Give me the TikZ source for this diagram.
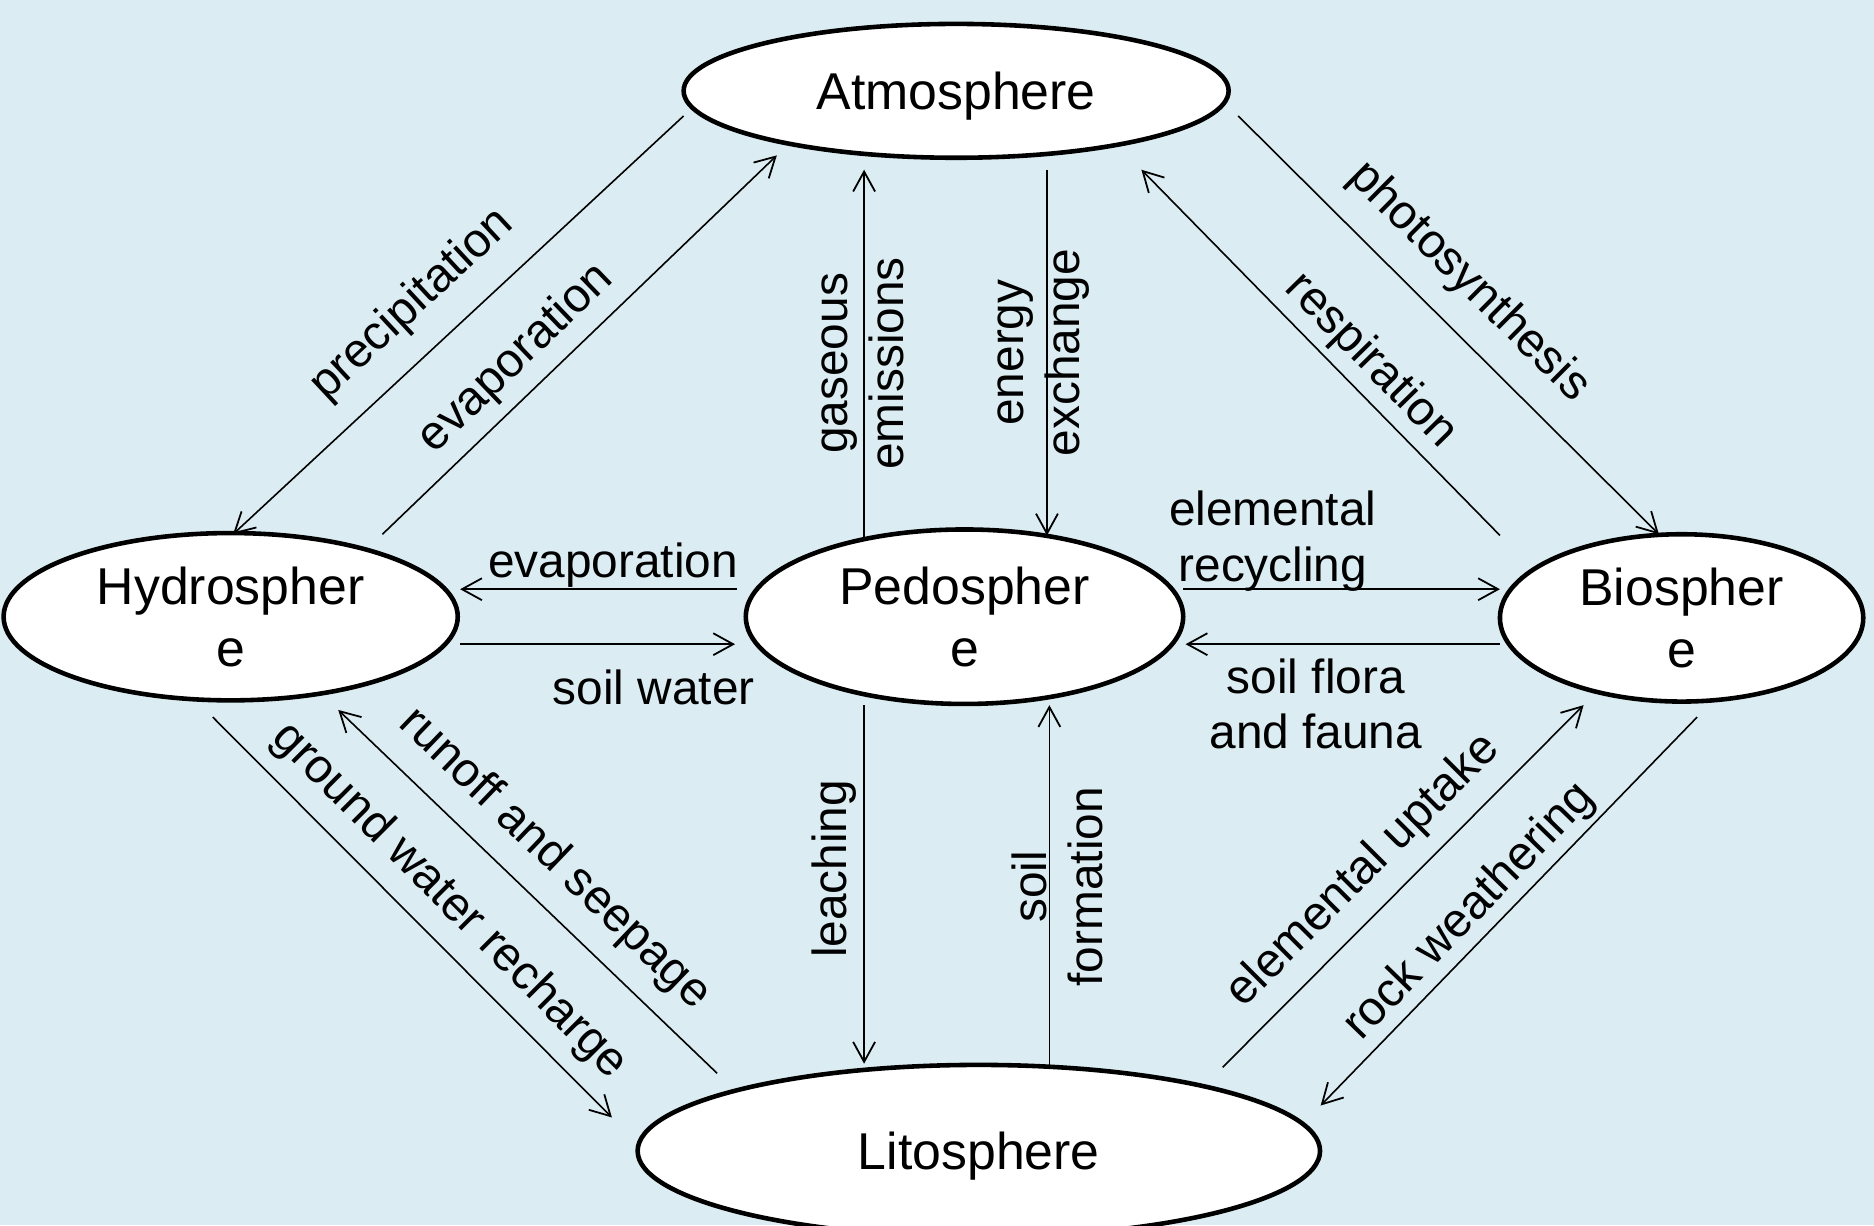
\documentclass[tikz,border=0pt]{standalone}
\usepackage{fontspec}
\setmainfont{Liberation Sans}
\usetikzlibrary{shapes.geometric,arrows.meta}
\definecolor{bgblue}{RGB}{219,237,243}
\begin{document}
\begin{tikzpicture}[x=0.6pt,y=-0.6pt,
  sphere/.style={ellipse,draw=black,line width=2.3pt,fill=white,inner sep=0pt,
    align=center,font=\fontsize{26}{31}\selectfont},
  flow/.style={draw=black,line width=0.8pt,-{Straight Barb[length=10pt,width=11pt,line width=0.9pt]}},
  lbl/.style={inner sep=0pt,align=center,font=\fontsize{24}{28}\selectfont}]
\fill[bgblue] (0,0) rectangle (1568,1025);
\useasboundingbox (0,0) rectangle (1568,1025);
% spheres
\node[sphere,text depth=0pt,minimum width=273.6pt,minimum height=67.2pt] (atm) at (800,76) {Atmosphere};
\node[sphere,minimum width=228pt,minimum height=84pt] (hyd) at (193,516) {Hydrospher\\e};
\node[sphere,minimum width=219.6pt,minimum height=87.6pt] (ped) at (807,516) {Pedospher\\e};
\node[sphere,minimum width=182.4pt,minimum height=84pt] (bio) at (1407,517) {Biospher\\e};
\node[sphere,text depth=0pt,minimum width=342.6pt,minimum height=86.4pt] (lit) at (819,963) {Litosphere};
% connectors
\draw[flow] ([shift={(-228,21)}]atm.center) -- ([shift={(2,-69)}]hyd.center);
\draw[flow] ([shift={(127,-69)}]hyd.center) -- ([shift={(-150,54)}]atm.center);
\draw[flow] ([shift={(-84,-66)}]ped.center) -- ([shift={(-77,66)}]atm.center);
\draw[flow] ([shift={(76,66)}]atm.center) -- ([shift={(69,-68)}]ped.center);
\draw[flow] ([shift={(-152,-69)}]bio.center) -- ([shift={(155,66)}]atm.center);
\draw[flow] ([shift={(236,21)}]atm.center) -- ([shift={(-19,-70)}]bio.center);
\draw[flow] ([shift={(-190,-23)}]ped.center) -- ([shift={(192,-23)}]hyd.center);
\draw[flow] ([shift={(192,23)}]hyd.center) -- ([shift={(-192,23)}]ped.center);
\draw[flow] ([shift={(183,-23)}]ped.center) -- ([shift={(-152,-24)}]bio.center);
\draw[flow] ([shift={(-152,22)}]bio.center) -- ([shift={(185,23)}]ped.center);
\draw[flow] ([shift={(-15,84)}]hyd.center) -- ([shift={(-307,-28)}]lit.center);
\draw[flow] ([shift={(-219,-65)}]lit.center) -- ([shift={(90,78)}]hyd.center);
\draw[flow] ([shift={(-84,74)}]ped.center) -- ([shift={(-96,-73)}]lit.center);
\draw[flow] ([shift={(59,-71)}]lit.center) -- ([shift={(71,74)}]ped.center);
\draw[flow] ([shift={(204,-70)}]lit.center) -- ([shift={(-82,73)}]bio.center);
\draw[flow] ([shift={(13,83)}]bio.center) -- ([shift={(286,-38)}]lit.center);
% labels
\node[lbl,rotate=42.9] (l1) at (345,255) {precipitation};
\node[lbl,rotate=43.9] (l2) at (432,300) {evaporation};
\node[lbl,rotate=90] (l3) at (722,304) {gaseous\\emissions};
\node[lbl,rotate=90] (l4) at (873,295) {energy\\exchange};
\node[lbl,rotate=-45.6] (l5) at (1147,302) {respiration};
\node[lbl,rotate=-44.8] (l6) at (1229,236) {photosynthesis};
\node[lbl] (l7) at (513,473) {evaporation};
\node[lbl] (l8) at (547,575) {soil water};
\node[lbl] (l9) at (1065,453) {elemental\\recycling};
\node[lbl] (l10) at (1101,589) {soil flora\\and fauna};
\node[lbl,rotate=-45] (l11) at (376,754) {ground water recharge};
\node[lbl,rotate=-43.8] (l12) at (464,719) {runoff and seepage};
\node[lbl,rotate=90] (l13) at (698,727) {leaching};
\node[lbl,rotate=90] (l14) at (885,742) {soil\\formation};
\node[lbl,rotate=45.1] (l15) at (1141,729) {elemental uptake};
\node[lbl,rotate=45.9] (l16) at (1230,763) {rock weathering};
\end{tikzpicture}
\end{document}
